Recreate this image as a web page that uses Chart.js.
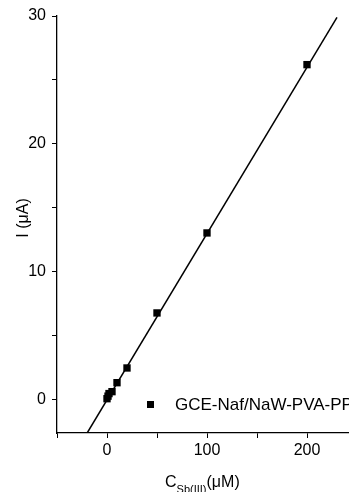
<!DOCTYPE html>
<html>
<head>
<meta charset="utf-8">
<script src="https://cdn.jsdelivr.net/npm/chart.js@4/dist/chart.umd.min.js"></script>
<style>
html,body{margin:0;padding:0;background:#fff;overflow:hidden;width:349px;height:492px;}
#wrap{position:absolute;left:0;top:0;width:380px;height:492px;}
</style>
</head>
<body>
<div id="wrap"><canvas id="c" width="380" height="492"></canvas></div>
<script>
// Data
const concentrations = [0, 1, 2, 5, 10, 20, 50, 100, 200];       // C_Sb(III) (µM)
const currents       = [0.1, 0.3, 0.5, 0.65, 1.35, 2.5, 6.8, 13.05, 26.2]; // I (µA)
const fitX = [-20, 230];
const fitY = [-2.6, 29.9];
const seriesName = 'GCE-Naf/NaW-PVA-PPy';
const xTitleMain = 'C';
const xTitleSub = 'Sb(III)';
const xTitleUnit = '(μM)';
const yTitle = 'I (μA)';

const FONT = '"Liberation Sans", Arial, sans-serif';

const annot = {
  id: 'annot',
  afterDraw(chart) {
    const ctx = chart.ctx;
    ctx.save();
    ctx.fillStyle = '#000';
    // legend
    ctx.fillRect(147, 401, 7, 7);
    ctx.font = '17px ' + FONT;
    ctx.textBaseline = 'middle';
    ctx.textAlign = 'left';
    ctx.fillText(seriesName, 175, 405);
    // x title
    ctx.textBaseline = 'alphabetic';
    ctx.font = '16px ' + FONT;
    let x = 165;
    ctx.fillText(xTitleMain, x, 487);
    x += ctx.measureText(xTitleMain).width;
    ctx.font = '11px ' + FONT;
    ctx.fillText(xTitleSub, x, 493);
    x += ctx.measureText(xTitleSub).width;
    ctx.font = '16px ' + FONT;
    ctx.fillText(xTitleUnit, x, 487);
    // y title
    ctx.translate(28, 218);
    ctx.rotate(-Math.PI / 2);
    ctx.textAlign = 'center';
    ctx.font = '16px ' + FONT;
    ctx.fillText(yTitle, 0, 0);
    ctx.restore();
  }
};

new Chart(document.getElementById('c'), {
  type: 'scatter',
  data: {
    datasets: [
      {
        label: 'fit',
        type: 'line',
        data: fitX.map((v, i) => ({x: v, y: fitY[i]})),
        borderColor: '#000',
        borderWidth: 1.5,
        pointRadius: 0,
        fill: false,
        order: 2
      },
      {
        label: seriesName,
        data: concentrations.map((v, i) => ({x: v, y: currents[i]})),
        pointStyle: 'rect',
        pointRadius: 5.2,
        backgroundColor: '#000',
        borderColor: '#000',
        borderWidth: 0,
        order: 1
      }
    ]
  },
  options: {
    responsive: false,
    animation: false,
    devicePixelRatio: 1,
    layout: {padding: {left: 0, right: 13, top: 16, bottom: 0}},
    plugins: {legend: {display: false}, tooltip: {enabled: false}},
    scales: {
      x: {
        type: 'linear',
        min: -50, max: 260,
        afterFit(s) { s.height = 59; },
        border: {display: true, color: '#000', width: 1.3},
        grid: {drawOnChartArea: false, drawTicks: true, tickLength: 5, color: '#000', lineWidth: 1},
        ticks: {
          stepSize: 50, includeBounds: false, autoSkip: false, maxRotation: 0,
          color: '#000', font: {family: FONT, size: 16}, padding: 3,
          callback: v => (v % 100 === 0 ? String(v) : '')
        }
      },
      y: {
        type: 'linear',
        min: -2.58, max: 30,
        afterFit(s) { s.width = 57; },
        border: {display: true, color: '#000', width: 1.3},
        grid: {drawOnChartArea: false, drawTicks: true, tickLength: 5, color: '#000', lineWidth: 1},
        ticks: {
          stepSize: 5, includeBounds: false, autoSkip: false,
          color: '#000', font: {family: FONT, size: 16}, padding: 6,
          callback: v => (Math.abs(v % 10) < 1e-9 ? String(v) : '')
        }
      }
    }
  },
  plugins: [annot]
});
</script>
</body>
</html>
